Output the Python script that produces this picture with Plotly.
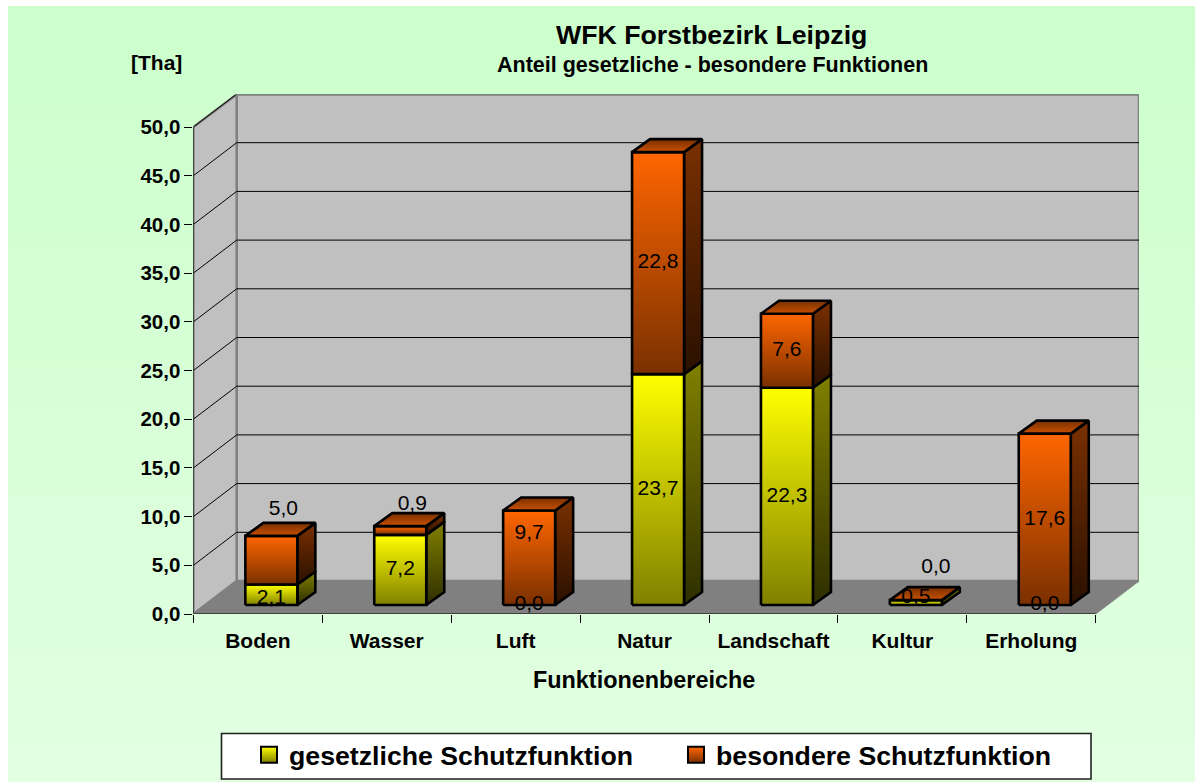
import plotly.graph_objects as go

categories = ["Boden", "Wasser", "Luft", "Natur", "Landschaft", "Kultur", "Erholung"]
gesetzlich = [2.1, 7.2, 0.0, 23.7, 22.3, 0.5, 0.0]
besonders = [5.0, 0.9, 9.7, 22.8, 7.6, 0.0, 17.6]
y_ticks = [0, 5, 10, 15, 20, 25, 30, 35, 40, 45, 50]
y_ticklabels = ["0,0", "5,0", "10,0", "15,0", "20,0", "25,0", "30,0", "35,0", "40,0", "45,0", "50,0"]

# labels the original author moved by hand: (category index, series) -> pixel shift
moved_labels = {(0, 0): (0, -4), (0, 1): (12, 50), (1, 1): (12, 26), (2, 1): (0, 24), (5, 1): (20, 32), (5, 0): (0, 5)}

MX, MY = 8, 6                     # page margin of the picture
W, H = 1195 - MX, 782 - MY
L, R, T, B = 193.4, 1139, 94.5, 614
FLOOR_R = 1095.7
UX = (FLOOR_R - L) / 7            # px per category
UY = 9.74                         # px per value unit
XMIN, XMAX = -0.5, 6.5 + (R - FLOOR_R) / UX
YMAX = (B - T) / UY
DX, DY = (R - FLOOR_R) / UX, 33 / UY   # chart depth
OX, OY = 13.5 / UX, 9 / UY             # bar front offset from axis plane
BW = 26 / UX
BDX, BDY = 18 / UX, 13 / UY            # bar depth


def px(x):
    return (x - MX) / W


def py(y):
    return 1 - (y - MY) / H


fig = go.Figure()


def grad(c_top, c_bot):
    return dict(type="vertical", colorscale=[[0, c_bot], [1, c_top]])


# background on the full page
fig.add_trace(go.Scatter(x=[0, 1, 1, 0, 0], y=[0, 0, 1, 1, 0], mode="lines", line_width=0, fill="toself",
                         fillgradient=grad("#CCFFCC", "#E2FFE2"), hoverinfo="skip", showlegend=False,
                         xaxis="x", yaxis="y"))


def poly(xs, ys, **kw):
    kw.setdefault("line", dict(color="black", width=2.6))
    kw.setdefault("showlegend", False)
    fig.add_trace(go.Scatter(x=xs, y=ys, mode="lines", fill="toself", hoverinfo="skip",
                             xaxis="x2", yaxis="y2", **kw))


GREY = dict(color="#808080", width=2.5)
# walls and floor
poly([XMIN + DX, XMAX, XMAX, XMIN + DX, XMIN + DX], [DY, DY, YMAX, YMAX, DY], fillcolor="#C0C0C0", line=GREY)
poly([XMIN, XMIN + DX, XMIN + DX, XMIN, XMIN], [0, DY, YMAX, 50, 0], fillcolor="#C0C0C0", line=GREY)
poly([XMIN, XMIN + DX, XMAX, 6.5, XMIN], [0, DY, DY, 0, 0], fillcolor="#808080", line=dict(color="#808080", width=1))
# gridlines
for v in y_ticks[1:]:
    fig.add_trace(go.Scatter(x=[XMIN, XMIN + DX, XMAX], y=[v, v + DY, v + DY], mode="lines",
                             line=dict(color="black", width=1), hoverinfo="skip", showlegend=False,
                             xaxis="x2", yaxis="y2"))
# axis lines
fig.add_trace(go.Scatter(x=[XMIN, XMIN, 6.5], y=[50, 0, 0], mode="lines", line=dict(color="black", width=1.2),
                         hoverinfo="skip", showlegend=False, xaxis="x2", yaxis="y2"))

YEL = dict(front=("#FFFF00", "#808000"), side=("#808000", "#2E2E00"))
ORA = dict(front=("#FF6600", "#7A3000"), side=("#7A3000", "#2A1000"), top=("#7A3000", "#C85000"))


def block(i, y0, y1, pal):
    c = i + OX
    x0, x1 = c - BW, c + BW
    b0, b1 = y0 + OY, y1 + OY
    poly([x1, x1 + BDX, x1 + BDX, x1, x1], [b0, b0 + BDY, b1 + BDY, b1, b0],
         fillgradient=grad(*pal["side"]))
    poly([x0, x1, x1, x0, x0], [b0, b0, b1, b1, b0], fillgradient=grad(*pal["front"]))


for i, (g, b) in enumerate(zip(gesetzlich, besonders)):
    if g > 0:
        block(i, 0, g, YEL)
    if b > 0:
        block(i, g, g + b, ORA)
    top = g + b + OY
    c = i + OX
    x0, x1 = c - BW, c + BW
    poly([x0, x1, x1 + BDX, x0 + BDX, x0], [top, top, top + BDY, top + BDY, top],
         fillgradient=grad(*ORA["top"]))


# data labels
def fmt(v):
    return f"{v:.1f}".replace(".", ",")


lab_x, lab_y, lab_t = [], [], []
for i, (g, b) in enumerate(zip(gesetzlich, besonders)):
    for s, (v, mid) in enumerate(((g, g / 2), (b, g + b / 2))):
        sx, sy = moved_labels.get((i, s), (0, 0))
        lab_x.append(i + OX + sx / UX)
        lab_y.append(mid + OY + sy / UY)
        lab_t.append(fmt(v))
fig.add_trace(go.Scatter(x=lab_x, y=lab_y, text=lab_t, mode="text", textposition="middle center",
                         textfont=dict(family="Liberation Sans", size=21, color="black"),
                         hoverinfo="skip", showlegend=False, xaxis="x2", yaxis="y2"))

# legend entries
for name, c, lg in (("gesetzliche Schutzfunktion", YEL, "legend"), ("besondere Schutzfunktion", ORA, "legend2")):
    fig.add_trace(go.Scatter(x=[None], y=[None], mode="markers", name=name, xaxis="x2", yaxis="y2", legend=lg,
                             marker=dict(symbol="square", size=17, color=c["front"][0],
                                         gradient=dict(type="vertical", color=c["front"][1]),
                                         line=dict(color="black", width=2))))

LEG_FONT = dict(size=26.7, family="Liberation Sans", weight="bold", color="black")


def legend_at(x):
    return dict(x=px(x), y=py(779), xanchor="left", yanchor="bottom",
                bgcolor="rgba(0,0,0,0)", borderwidth=0, font=LEG_FONT, itemwidth=30)


def note(text, x, y, size):
    return dict(text=f"<b>{text}</b>", x=px(x), y=py(y), xref="paper", yref="paper", showarrow=False,
                xanchor="center", yanchor="middle", font=dict(size=size))


fig.update_layout(
    template="none",
    width=W, height=H, margin=dict(l=0, r=0, t=0, b=0), autosize=False,
    paper_bgcolor="#CCFFCC", plot_bgcolor="rgba(0,0,0,0)",
    font=dict(family="Liberation Sans", color="black"),
    xaxis=dict(domain=[0, 1], range=[0, 1], visible=False, fixedrange=True),
    yaxis=dict(domain=[0, 1], range=[0, 1], visible=False, fixedrange=True),
    xaxis2=dict(domain=[px(L), px(R)], range=[XMIN, XMAX], anchor="y2", showgrid=False, zeroline=False,
                tickvals=list(range(7)), ticktext=categories, ticks="", showline=False, ticklabelstandoff=12,
                tickangle=0,
                tickfont=dict(size=21, family="Liberation Sans", weight="bold", color="black"),
                minor=dict(tickvals=[k - 0.5 for k in range(8)], ticks="outside", ticklen=8, tickcolor="black")),
    yaxis2=dict(domain=[py(B), py(T)], range=[0, YMAX], anchor="x2", showgrid=False, zeroline=False,
                tickvals=y_ticks, ticktext=y_ticklabels, ticks="outside", ticklen=8, tickcolor="black",
                showline=False, tickfont=dict(size=20.5, family="Liberation Sans", weight="bold", color="black")),
    showlegend=True,
    legend=legend_at(249),
    legend2=legend_at(676),
    shapes=[dict(type="rect", xref="paper", yref="paper", x0=px(221.5), x1=px(1091), y0=py(733.5), y1=py(779),
                 fillcolor="white", line=dict(color="#202020", width=1.6))],
    annotations=[
        note("WFK Forstbezirk Leipzig", 711.5, 35, 26.7),
        note("Anteil gesetzliche - besondere Funktionen", 712, 65, 21.5),
        note("[Tha]", 157, 63, 21),
        note("Funktionenbereiche", 644, 680, 23.4),
    ],
)
fig.write_html("out.html", post_script="document.body.style.margin='6px 0 0 8px';document.body.style.overflow='hidden';")
